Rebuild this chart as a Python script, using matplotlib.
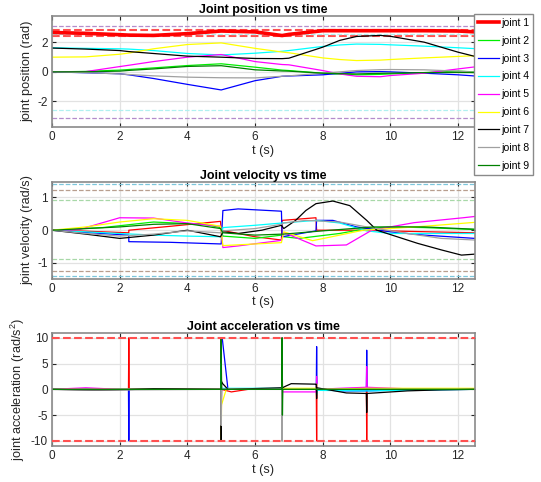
import matplotlib.pyplot as plt
plt.matplotlib.use('Agg')

# ---- data (t in s) ----
joint_names = ['joint 1', 'joint 2', 'joint 3', 'joint 4', 'joint 5',
               'joint 6', 'joint 7', 'joint 8', 'joint 9']
joint_colors = ['#ff0000', '#00ee00', '#0000ff', '#00ffff', '#ff00ff',
                '#ffff00', '#000000', '#a0a0a0', '#008000']

# joint positions (rad)
pos_t = [0, 1, 2, 2.27, 3, 4, 5, 6, 6.8, 7, 8, 8.5, 9, 9.7, 10, 11, 12, 12.5]
pos_j1 = [2.68, 2.62, 2.53, 2.5, 2.48, 2.6, 2.78, 2.72, 2.47, 2.55, 2.8, 2.8, 2.8, 2.8, 2.8, 2.8, 2.78, 2.72]
pos_j2 = [0, 0.03, 0.12, 0.16, 0.27, 0.43, 0.55, 0.32, 0.12, 0.09, -0.09, -0.15, -0.2, -0.17, -0.14, -0.05, 0.05, 0.0]
pos_j3 = [0, -0.06, -0.13, -0.2, -0.45, -0.85, -1.23, -0.6, -0.3, -0.28, -0.2, -0.1, 0.0, 0.02, 0.0, -0.09, -0.2, -0.28]
pos_j4 = [1.64, 1.6, 1.57, 1.55, 1.45, 1.25, 1.15, 1.27, 1.4, 1.45, 1.73, 1.83, 1.89, 1.87, 1.84, 1.75, 1.64, 1.58]
pos_j5 = [0, 0.02, 0.36, 0.45, 0.7, 1.0, 1.18, 0.7, 0.5, 0.48, 0.09, -0.14, -0.3, -0.33, -0.25, -0.09, 0.2, 0.34]
pos_j6 = [1.0, 1.02, 1.2, 1.28, 1.57, 1.86, 1.97, 1.6, 1.35, 1.3, 0.95, 0.84, 0.77, 0.8, 0.84, 0.95, 1.05, 1.1]
pos_j7 = [1.62, 1.55, 1.45, 1.38, 1.25, 1.07, 1.0, 0.91, 0.9, 0.93, 1.68, 2.14, 2.41, 2.48, 2.42, 2.02, 1.34, 1.05]
pos_j8 = [0, -0.05, -0.14, -0.18, -0.27, -0.36, -0.4, -0.41, -0.3, -0.27, -0.09, 0.0, 0.09, 0.15, 0.16, 0.14, 0.05, -0.02]
pos_j9 = [0, 0.01, 0.05, 0.1, 0.2, 0.37, 0.42, 0.14, 0.06, 0.05, -0.09, -0.12, -0.14, -0.1, -0.09, -0.05, -0.04, -0.05]

# joint velocities (rad/s), repeated times are the jumps
vel_t1 = [0, 1, 2.27, 2.27, 3.5, 4.98, 5.0, 6.0, 6.78, 6.8, 7.8, 7.82, 9, 12.5]
vel_j1 = [0, -0.03, -0.08, 0.0, 0.12, 0.27, 0.0, -0.2, -0.3, 0.3, 0.38, 0.0, 0.0, -0.08]
vel_t2 = [0, 1.5, 3, 4.5, 4.98, 5.05, 6, 6.78, 6.85, 7.3, 8.5, 9.3, 10, 11, 12.5]
vel_j2 = [0, 0.08, 0.25, 0.18, 0.08, -0.18, -0.25, -0.15, -0.2, -0.25, -0.1, 0.05, 0.1, 0.08, 0.02]
vel_t3 = [0, 1, 2.27, 2.27, 3.5, 5.0, 5.05, 5.5, 6.78, 6.8, 7.8, 7.82, 8.3, 9, 10, 11, 12.5]
vel_j3 = [0, -0.07, -0.15, -0.35, -0.37, -0.42, 0.6, 0.65, 0.58, -0.2, -0.02, 0.3, 0.3, 0.1, -0.05, -0.15, -0.25]
vel_t4 = [0, 1, 2, 3, 4, 5.0, 5.05, 6, 6.8, 7.8, 8.5, 9.3, 10, 12.5]
vel_j4 = [0, -0.05, -0.1, -0.15, -0.18, -0.2, 0.08, 0.15, 0.22, 0.3, 0.22, -0.02, -0.1, -0.1]
vel_t5 = [0, 0.8, 2, 3, 4, 4.98, 5.05, 5.5, 6.78, 6.85, 7.8, 8.7, 9.45, 10.7, 12.15, 12.5]
vel_j5 = [0, 0.02, 0.38, 0.37, 0.22, 0.12, -0.53, -0.48, -0.31, -0.07, -0.48, -0.45, 0.0, 0.23, 0.38, 0.42]
vel_t6 = [0, 1, 2, 3, 4, 4.98, 5.05, 6, 6.78, 6.85, 7.7, 8.5, 9.2, 10, 11, 12.5]
vel_j6 = [0, 0.1, 0.25, 0.35, 0.3, 0.12, -0.47, -0.42, -0.38, -0.05, -0.32, -0.15, 0.0, 0.05, 0.12, 0.24]
vel_t7 = [0, 1, 2, 3, 4, 4.98, 5.05, 5.5, 6.2, 6.78, 6.85, 7.2, 7.5, 7.8, 8.3, 8.8, 9.3, 9.6, 10.2, 10.8, 11.5, 12.1, 12.5]
vel_j7 = [0, -0.12, -0.25, -0.15, 0.0, -0.2, -0.05, -0.1, 0.0, 0.15, 0.05, 0.3, 0.6, 0.81, 0.89, 0.75, 0.3, 0.0, -0.2, -0.4, -0.6, -0.76, -0.73]
vel_t8 = [0, 1, 2, 3, 4, 4.98, 5.05, 6, 6.78, 6.85, 7.5, 8.5, 9.3, 10.5, 11.5, 12.5]
vel_j8 = [0, -0.1, -0.18, -0.12, -0.02, -0.08, -0.02, 0.05, 0.18, 0.22, 0.3, 0.25, 0.1, -0.1, -0.25, -0.3]
vel_t9 = [0, 2, 3, 4, 4.98, 5.05, 6, 6.78, 6.85, 8, 9.5, 11, 12.5]
vel_j9 = [0, 0.1, 0.18, 0.2, 0.05, -0.08, -0.15, -0.12, -0.12, -0.02, 0.1, 0.1, 0.03]

# joint accelerations (rad/s^2), spikes at the switching times
acc_t1 = [0, 2.26, 2.27, 2.28, 4.99, 5.0, 5.01, 5.3, 5.8, 6.79, 6.8, 6.81, 7.81, 7.82, 7.83, 9.29, 9.3, 9.31, 12.5]
acc_j1 = [0, 0, 10, 0.1, 0.1, 10, 0, -0.5, 0, 0, 10, 0, 0, -10, 0, 0, -10, 0, 0]
acc_t2 = [0, 4.99, 5.0, 5.01, 6.79, 6.8, 6.81, 12.5]
acc_j2 = [0, 0, -5, 0, 0, 10, 0, 0]
acc_t3 = [0, 2.26, 2.27, 2.28, 4.99, 5.0, 5.03, 5.2, 6.79, 6.8, 6.81, 7.81, 7.82, 7.83, 8.5, 9.29, 9.3, 9.31, 10.5, 12.5]
acc_j3 = [0, 0, -10, 0, 0, 10, 10, 0, 0, -10, 0, 0, 8.3, 0, -0.3, -0.3, 7.6, -0.3, -0.1, 0]
acc_t4 = [0, 4.99, 5.0, 5.01, 6.79, 6.8, 6.81, 7.81, 7.82, 7.83, 9.3, 12.5]
acc_j4 = [0, 0, 5, 0.2, 0.2, 8, 0, 0, -1, -0.2, -0.3, 0]
acc_t5 = [0, 1.0, 2.0, 4.99, 5.0, 5.01, 6.79, 6.8, 6.81, 6.9, 7.81, 7.82, 7.83, 8.5, 9.29, 9.3, 9.31, 10.5, 12.5]
acc_j5 = [0, 0.3, 0, 0, -10, 0, 0, 10, -0.5, -0.5, -0.5, 2.5, 0, 0.2, 0.4, 4.4, 0.4, 0.1, 0]
acc_t6 = [0, 4.99, 5.0, 5.01, 5.15, 6.79, 6.8, 6.81, 7.81, 7.82, 7.83, 9.3, 12.5]
acc_j6 = [0, 0, -10, -3, 0, 0, -10, 0.2, 0.2, 1.0, 0, 0.2, 0.2]
acc_t7 = [0, 1.5, 3, 4.99, 5.0, 5.01, 5.03, 5.2, 6.79, 6.8, 6.81, 6.9, 7.07, 7.8, 7.81, 7.82, 7.83, 8.7, 9.29, 9.3, 9.31, 10.5, 11.5, 12.5]
acc_j7 = [0, -0.2, 0.1, 0, -10, 1.5, 1.2, 0, 0.3, 0.3, 0.3, 0.6, 1.1, 1.0, 1.0, -1.8, 0.3, -0.7, -0.8, -4.5, -0.8, -0.3, -0.1, 0]
acc_t8 = [0, 1.5, 4.99, 5.0, 5.01, 6.79, 6.8, 6.81, 12.5]
acc_j8 = [0, -0.15, 0, -7, 0, 0, -10, 0, 0]
acc_t9 = [0, 4.99, 5.0, 5.01, 6.79, 6.8, 6.81, 6.82, 12.5]
acc_j9 = [0, 0, 10, 0, 0, 10, -5, 0, 0]

pos_data = [pos_j1, pos_j2, pos_j3, pos_j4, pos_j5, pos_j6, pos_j7, pos_j8, pos_j9]
vel_times = [vel_t1, vel_t2, vel_t3, vel_t4, vel_t5, vel_t6, vel_t7, vel_t8, vel_t9]
vel_data = [vel_j1, vel_j2, vel_j3, vel_j4, vel_j5, vel_j6, vel_j7, vel_j8, vel_j9]
acc_times = [acc_t1, acc_t2, acc_t3, acc_t4, acc_t5, acc_t6, acc_t7, acc_t8, acc_t9]
acc_data = [acc_j1, acc_j2, acc_j3, acc_j4, acc_j5, acc_j6, acc_j7, acc_j8, acc_j9]

# limit lines (value, colour)
pos_limits = [(3.14, '#b48ccc'), (-3.14, '#b48ccc'), (2.87, '#ff5050'), (2.45, '#ff5050'),
              (2.6, '#b0f0f0'), (-2.6, '#b0f0f0')]
vel_limits = [(1.40, '#7cc6dc'), (-1.40, '#7cc6dc'), (1.24, '#b89e8e'), (-1.24, '#b89e8e'),
              (0.92, '#a8d8a8'), (-0.89, '#a8d8a8')]
acc_limits = [(10, '#ff5050'), (-10, '#ff5050')]

plt.rcParams['font.family'] = ['Liberation Sans', 'DejaVu Sans']
plt.rcParams['mathtext.fontset'] = 'custom'
plt.rcParams['mathtext.rm'] = 'Liberation Sans'
plt.rcParams['mathtext.it'] = 'Liberation Sans'
plt.rcParams['axes.unicode_minus'] = False

fig = plt.figure(figsize=(5.41, 4.82), dpi=100)
ax1 = fig.add_axes([0.0961, 0.7359, 0.7819, 0.2315])
ax2 = fig.add_axes([0.0961, 0.4218, 0.7819, 0.2012])
ax3 = fig.add_axes([0.0961, 0.0747, 0.7819, 0.2351])


def style_axes(ax, title, ylabel, ylim, yticks):
    # MATLAB-ish look: grey box, light grid, ticks inside on every side
    ax.set_xlim(0, 12.5)
    ax.set_ylim(*ylim)
    ax.set_xticks([0, 2, 4, 6, 8, 10, 12])
    ax.set_yticks(yticks)
    ax.grid(True, color='#e2e2e2', linewidth=0.9)
    ax.set_axisbelow(True)
    ax.tick_params(direction='in', top=True, right=True, labelsize=8.5,
                   colors='#262626', length=3, width=0.8, pad=3)
    for s in ax.spines.values():
        s.set_color('#8a8a8a')
        s.set_linewidth(1.2)
    ax.set_title(title, fontsize=9, fontweight='bold', pad=2, color='black')
    ax.set_xlabel('t (s)', fontsize=9.2, color='#262626', labelpad=1)
    ax.set_ylabel(ylabel, fontsize=9.2, color='#262626', labelpad=3)


# position
for val, col in pos_limits:
    ax1.axhline(val, color=col, linestyle='--', linewidth=1.5 if col == '#ff5050' else 0.9, zorder=1)
for i in range(9):
    lw = 2.6 if i == 0 else 0.9
    ax1.plot(pos_t, pos_data[i], color=joint_colors[i], linewidth=lw, label=joint_names[i], zorder=2)
style_axes(ax1, 'Joint position vs time', 'joint position (rad)', (-3.77, 3.82), [-2, 0, 2])

# velocity
for val, col in vel_limits:
    ax2.axhline(val, color=col, linestyle='--', linewidth=0.9, zorder=1)
for i in range(9):
    ax2.plot(vel_times[i], vel_data[i], color=joint_colors[i], linewidth=0.9, zorder=2)
style_axes(ax2, 'Joint velocity vs time', 'joint velocity (rad/s)', (-1.48, 1.48), [-1, 0, 1])

# acceleration
for val, col in acc_limits:
    ax3.axhline(val, color=col, linestyle='--', linewidth=1.5, zorder=3)
for i in range(9):
    ax3.plot(acc_times[i], acc_data[i], color=joint_colors[i], linewidth=0.9, zorder=2)
style_axes(ax3, 'Joint acceleration vs time', 'joint acceleration (rad/s$^2$)', (-11, 11), [-10, -5, 0, 5, 10])

# legend sits just right of the top axes, hanging down over the middle one
leg = ax1.legend(loc='upper left', bbox_to_anchor=(0.876, 0.971), bbox_transform=fig.transFigure,
                 fontsize=7.6, handlelength=2.0, handletextpad=0.2, labelspacing=0.75,
                 borderpad=0.35, borderaxespad=0, fancybox=False, framealpha=1, edgecolor='#8a8a8a')
leg.get_frame().set_linewidth(1.0)
leg.set_zorder(10)

plt.savefig('out.png', dpi=100)
plt.close()
